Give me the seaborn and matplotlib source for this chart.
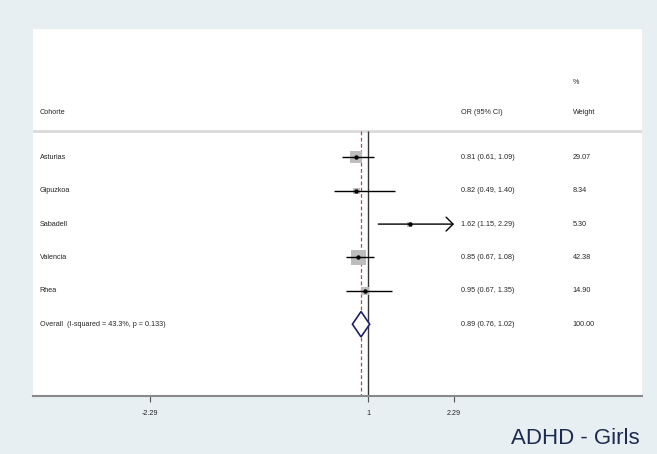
import matplotlib
matplotlib.use("Agg")
import matplotlib.pyplot as plt
import seaborn as sns
import pandas as pd

# Forest plot data (ADHD - Girls)
cohorts = ["Asturias", "Gipuzkoa", "Sabadell", "Valencia", "Rhea"]
odds_ratio = [0.81, 0.82, 1.62, 0.85, 0.95]
ci_low = [0.61, 0.49, 1.15, 0.67, 0.67]
ci_high = [1.09, 1.40, 2.29, 1.08, 1.35]
weights = [29.07, 8.34, 5.30, 42.38, 14.90]

overall_label = "Overall  (I-squared = 43.3%, p = 0.133)"
overall_or = 0.89
overall_low = 0.76
overall_high = 1.02
overall_weight = 100.00

x_ticks = [-2.29, 1, 2.29]
x_tick_labels = ["-2.29", "1", "2.29"]
x_max = 2.29

sns.set_style("white")
plt.rcParams['font.family'] = ['Liberation Sans', 'DejaVu Sans']

BG = '#e8eff2'
TEXT_SIZE = 5.2

df = pd.DataFrame({
    'cohort': cohorts,
    'or': odds_ratio,
    'lo': ci_low,
    'hi': ci_high,
    'weight': weights,
})
df['row'] = range(len(df))
overall_row = len(df)

fig = plt.figure(figsize=(6.57, 4.54), dpi=100)
fig.patch.set_facecolor(BG)
ax = fig.add_axes([0.0502, 0.1278, 0.9269, 0.8094])
ax.set_facecolor('white')
ax.set_xlim(-4.05, 5.12)
ax.set_ylim(7.15, -3.86)

sep_y = -0.79
ax.axhline(sep_y, color='#dadada', lw=2, zorder=1)

# reference lines
ax.vlines(1, sep_y, 7.15, color='#333333', lw=1, zorder=2)
ax.vlines(overall_or, sep_y, 7.15, colors='#b04848', linestyles=(0, (3, 2)),
          lw=0.9, zorder=2)

# weight boxes
sns.scatterplot(data=df, x='or', y='row', size='weight',
                sizes=(min(weights) * 2.5, max(weights) * 2.5),
                size_norm=(min(weights), max(weights)),
                marker='s', color='#bdbdbd', linewidth=0, legend=False,
                ax=ax, zorder=3)

# confidence intervals
for _, r in df.iterrows():
    if r['hi'] >= x_max:
        ax.annotate('', xy=(r['hi'], r['row']), xytext=(r['lo'], r['row']),
                    arrowprops=dict(arrowstyle='->,head_length=0.5,head_width=0.5',
                                    color='black', lw=1, shrinkA=0, shrinkB=0),
                    zorder=4)
    else:
        ax.hlines(r['row'], r['lo'], r['hi'], color='black', lw=1, zorder=4)

# point estimates
sns.scatterplot(data=df, x='or', y='row', marker='o', color='black', s=10,
                linewidth=0, legend=False, ax=ax, zorder=5)

# overall diamond
h = 0.38
ax.fill([overall_low, overall_or, overall_high, overall_or],
        [overall_row, overall_row - h, overall_row, overall_row + h],
        facecolor='white', edgecolor='#1f1f6b', lw=1.2, zorder=5)

# text columns
x_label, x_ci, x_w = -3.95, 2.39, 4.08
ax.text(x_label, -1.33, "Cohorte", fontsize=TEXT_SIZE, va='center')
ax.text(x_ci, -1.33, "OR (95% CI)", fontsize=TEXT_SIZE, va='center')
ax.text(x_w, -2.23, "%", fontsize=TEXT_SIZE, va='center')
ax.text(x_w, -1.33, "Weight", fontsize=TEXT_SIZE, va='center')

for _, r in df.iterrows():
    ax.text(x_label, r['row'], r['cohort'], fontsize=TEXT_SIZE, va='center')
    ax.text(x_ci, r['row'], f"{r['or']:.2f} ({r['lo']:.2f}, {r['hi']:.2f})",
            fontsize=TEXT_SIZE, va='center')
    ax.text(x_w, r['row'], f"{r['weight']:.2f}", fontsize=TEXT_SIZE, va='center')

ax.text(x_label, overall_row, overall_label, fontsize=TEXT_SIZE, va='center')
ax.text(x_ci, overall_row,
        f"{overall_or:.2f} ({overall_low:.2f}, {overall_high:.2f})",
        fontsize=TEXT_SIZE, va='center')
ax.text(x_w, overall_row, f"{overall_weight:.2f}", fontsize=TEXT_SIZE, va='center')

# axes styling
for side in ['top', 'left', 'right']:
    ax.spines[side].set_visible(False)
ax.spines['bottom'].set_color('#8a8a8a')
ax.spines['bottom'].set_linewidth(1.5)
ax.set_xticks(x_ticks)
ax.set_xticklabels(x_tick_labels)
ax.set_yticks([])
ax.tick_params(axis='x', bottom=True, direction='out', length=4, width=0.8,
               color='#555555', labelsize=TEXT_SIZE, pad=6)
ax.set_xlabel('')
ax.set_ylabel('')

fig.text(0.973, 1 - 439 / 454, "ADHD - Girls", ha='right', va='center',
         fontsize=16, color='#1c2a4f')

fig.savefig('out.png', dpi=100, facecolor=BG)
